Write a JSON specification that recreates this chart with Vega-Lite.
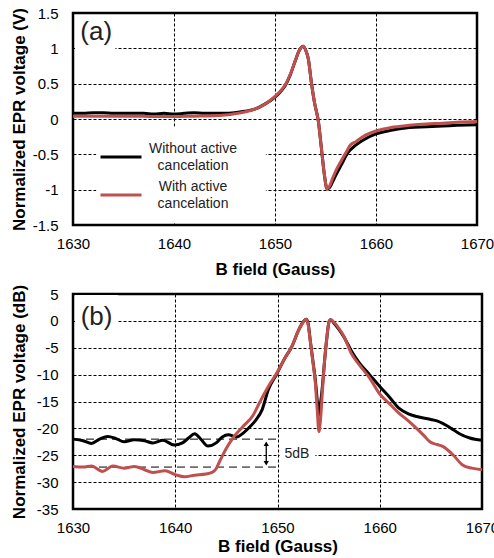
{
  "$schema": "https://vega.github.io/schema/vega-lite/v6.json",
  "padding": {"left": 8, "top": 4, "right": 5, "bottom": 2},
  "spacing": 4,
  "config": {
    "font": "Liberation Sans",
    "view": {"stroke": "black", "strokeWidth": 2.5},
    "axis": {
      "grid": true, "gridColor": "black", "gridDash": [3, 2], "gridWidth": 1, "gridOpacity": 1,
      "domain": false, "ticks": false, "tickCount": 20,
      "labelFont": "Liberation Sans", "labelFontSize": 15, "labelColor": "black",
      "titleFont": "Liberation Sans", "titleFontSize": 17, "titleFontWeight": "bold", "titleColor": "black",
      "labelFlush": false, "labelOverlap": false
    }
  },
  "datasets": {
    "a": [
      {"B": 1630, "v": 0.08, "s": "Without active cancelation"},
      {"B": 1631, "v": 0.08, "s": "Without active cancelation"},
      {"B": 1632, "v": 0.09, "s": "Without active cancelation"},
      {"B": 1633, "v": 0.09, "s": "Without active cancelation"},
      {"B": 1634, "v": 0.08, "s": "Without active cancelation"},
      {"B": 1635, "v": 0.08, "s": "Without active cancelation"},
      {"B": 1636, "v": 0.08, "s": "Without active cancelation"},
      {"B": 1637, "v": 0.08, "s": "Without active cancelation"},
      {"B": 1638, "v": 0.07, "s": "Without active cancelation"},
      {"B": 1639, "v": 0.08, "s": "Without active cancelation"},
      {"B": 1640, "v": 0.07, "s": "Without active cancelation"},
      {"B": 1641, "v": 0.08, "s": "Without active cancelation"},
      {"B": 1642, "v": 0.09, "s": "Without active cancelation"},
      {"B": 1643, "v": 0.08, "s": "Without active cancelation"},
      {"B": 1644, "v": 0.08, "s": "Without active cancelation"},
      {"B": 1645, "v": 0.08, "s": "Without active cancelation"},
      {"B": 1646, "v": 0.09, "s": "Without active cancelation"},
      {"B": 1647, "v": 0.11, "s": "Without active cancelation"},
      {"B": 1648, "v": 0.14, "s": "Without active cancelation"},
      {"B": 1649, "v": 0.21, "s": "Without active cancelation"},
      {"B": 1650, "v": 0.31, "s": "Without active cancelation"},
      {"B": 1650.5, "v": 0.38, "s": "Without active cancelation"},
      {"B": 1651, "v": 0.47, "s": "Without active cancelation"},
      {"B": 1651.5, "v": 0.62, "s": "Without active cancelation"},
      {"B": 1652, "v": 0.82, "s": "Without active cancelation"},
      {"B": 1652.4, "v": 0.97, "s": "Without active cancelation"},
      {"B": 1652.8, "v": 1.03, "s": "Without active cancelation"},
      {"B": 1653.1, "v": 0.95, "s": "Without active cancelation"},
      {"B": 1653.3, "v": 0.85, "s": "Without active cancelation"},
      {"B": 1653.6, "v": 0.52, "s": "Without active cancelation"},
      {"B": 1653.9, "v": 0.24, "s": "Without active cancelation"},
      {"B": 1654.3, "v": -0.04, "s": "Without active cancelation"},
      {"B": 1654.6, "v": -0.42, "s": "Without active cancelation"},
      {"B": 1654.9, "v": -0.8, "s": "Without active cancelation"},
      {"B": 1655.15, "v": -0.99, "s": "Without active cancelation"},
      {"B": 1655.4, "v": -0.97, "s": "Without active cancelation"},
      {"B": 1655.7, "v": -0.89, "s": "Without active cancelation"},
      {"B": 1656, "v": -0.8, "s": "Without active cancelation"},
      {"B": 1656.6, "v": -0.64, "s": "Without active cancelation"},
      {"B": 1657.2, "v": -0.48, "s": "Without active cancelation"},
      {"B": 1658, "v": -0.37, "s": "Without active cancelation"},
      {"B": 1658.7, "v": -0.3, "s": "Without active cancelation"},
      {"B": 1660, "v": -0.21, "s": "Without active cancelation"},
      {"B": 1661.5, "v": -0.16, "s": "Without active cancelation"},
      {"B": 1663.3, "v": -0.12, "s": "Without active cancelation"},
      {"B": 1665, "v": -0.11, "s": "Without active cancelation"},
      {"B": 1666.6, "v": -0.1, "s": "Without active cancelation"},
      {"B": 1668, "v": -0.09, "s": "Without active cancelation"},
      {"B": 1670, "v": -0.08, "s": "Without active cancelation"},
      {"B": 1630, "v": 0.04, "s": "With active cancelation"},
      {"B": 1632, "v": 0.04, "s": "With active cancelation"},
      {"B": 1634, "v": 0.04, "s": "With active cancelation"},
      {"B": 1636, "v": 0.04, "s": "With active cancelation"},
      {"B": 1638, "v": 0.035, "s": "With active cancelation"},
      {"B": 1640, "v": 0.035, "s": "With active cancelation"},
      {"B": 1642, "v": 0.04, "s": "With active cancelation"},
      {"B": 1644, "v": 0.045, "s": "With active cancelation"},
      {"B": 1645, "v": 0.055, "s": "With active cancelation"},
      {"B": 1646, "v": 0.075, "s": "With active cancelation"},
      {"B": 1647, "v": 0.1, "s": "With active cancelation"},
      {"B": 1648, "v": 0.14, "s": "With active cancelation"},
      {"B": 1649, "v": 0.21, "s": "With active cancelation"},
      {"B": 1650, "v": 0.32, "s": "With active cancelation"},
      {"B": 1650.5, "v": 0.39, "s": "With active cancelation"},
      {"B": 1651, "v": 0.48, "s": "With active cancelation"},
      {"B": 1651.5, "v": 0.63, "s": "With active cancelation"},
      {"B": 1652, "v": 0.82, "s": "With active cancelation"},
      {"B": 1652.4, "v": 0.97, "s": "With active cancelation"},
      {"B": 1652.8, "v": 1.03, "s": "With active cancelation"},
      {"B": 1653.1, "v": 0.95, "s": "With active cancelation"},
      {"B": 1653.3, "v": 0.85, "s": "With active cancelation"},
      {"B": 1653.6, "v": 0.52, "s": "With active cancelation"},
      {"B": 1653.9, "v": 0.24, "s": "With active cancelation"},
      {"B": 1654.3, "v": -0.04, "s": "With active cancelation"},
      {"B": 1654.6, "v": -0.42, "s": "With active cancelation"},
      {"B": 1654.9, "v": -0.8, "s": "With active cancelation"},
      {"B": 1655.15, "v": -0.99, "s": "With active cancelation"},
      {"B": 1655.4, "v": -0.95, "s": "With active cancelation"},
      {"B": 1655.7, "v": -0.84, "s": "With active cancelation"},
      {"B": 1656, "v": -0.74, "s": "With active cancelation"},
      {"B": 1656.6, "v": -0.58, "s": "With active cancelation"},
      {"B": 1657.2, "v": -0.43, "s": "With active cancelation"},
      {"B": 1657.4, "v": -0.38, "s": "With active cancelation"},
      {"B": 1658, "v": -0.32, "s": "With active cancelation"},
      {"B": 1658.7, "v": -0.25, "s": "With active cancelation"},
      {"B": 1660, "v": -0.17, "s": "With active cancelation"},
      {"B": 1661.5, "v": -0.12, "s": "With active cancelation"},
      {"B": 1663.3, "v": -0.09, "s": "With active cancelation"},
      {"B": 1665, "v": -0.07, "s": "With active cancelation"},
      {"B": 1666.6, "v": -0.06, "s": "With active cancelation"},
      {"B": 1668, "v": -0.045, "s": "With active cancelation"},
      {"B": 1670, "v": -0.035, "s": "With active cancelation"}
    ],
    "b": [
      {"B": 1630, "v": -22.0, "s": "Without"},
      {"B": 1631, "v": -22.3, "s": "Without"},
      {"B": 1631.8, "v": -22.8, "s": "Without"},
      {"B": 1632.6, "v": -22.0, "s": "Without"},
      {"B": 1633.4, "v": -21.5, "s": "Without"},
      {"B": 1634.2, "v": -21.9, "s": "Without"},
      {"B": 1635, "v": -22.5, "s": "Without"},
      {"B": 1636, "v": -22.1, "s": "Without"},
      {"B": 1637, "v": -22.3, "s": "Without"},
      {"B": 1637.8, "v": -22.7, "s": "Without"},
      {"B": 1638.8, "v": -22.2, "s": "Without"},
      {"B": 1639.9, "v": -23.1, "s": "Without"},
      {"B": 1640.7, "v": -22.7, "s": "Without"},
      {"B": 1641.3, "v": -21.8, "s": "Without"},
      {"B": 1641.9, "v": -21.0, "s": "Without"},
      {"B": 1642.5, "v": -22.0, "s": "Without"},
      {"B": 1643.2, "v": -23.3, "s": "Without"},
      {"B": 1644, "v": -22.7, "s": "Without"},
      {"B": 1644.6, "v": -21.6, "s": "Without"},
      {"B": 1645.2, "v": -21.2, "s": "Without"},
      {"B": 1646, "v": -21.6, "s": "Without"},
      {"B": 1646.7, "v": -20.8, "s": "Without"},
      {"B": 1647.3, "v": -19.7, "s": "Without"},
      {"B": 1647.9, "v": -18.4, "s": "Without"},
      {"B": 1648.5, "v": -16.5, "s": "Without"},
      {"B": 1649.1, "v": -12.8, "s": "Without"},
      {"B": 1649.9, "v": -10.0, "s": "Without"},
      {"B": 1650.7, "v": -7.0, "s": "Without"},
      {"B": 1651.4, "v": -4.8, "s": "Without"},
      {"B": 1652, "v": -2.0, "s": "Without"},
      {"B": 1652.5, "v": -0.2, "s": "Without"},
      {"B": 1652.8, "v": 0.3, "s": "Without"},
      {"B": 1653, "v": -0.5, "s": "Without"},
      {"B": 1653.2, "v": -3.6, "s": "Without"},
      {"B": 1653.5, "v": -8.0, "s": "Without"},
      {"B": 1653.7, "v": -11.0, "s": "Without"},
      {"B": 1653.9, "v": -15.0, "s": "Without"},
      {"B": 1654.05, "v": -17.5, "s": "Without"},
      {"B": 1654.2, "v": -15.5, "s": "Without"},
      {"B": 1654.4, "v": -12.0, "s": "Without"},
      {"B": 1654.6, "v": -7.5, "s": "Without"},
      {"B": 1654.8, "v": -3.6, "s": "Without"},
      {"B": 1655.05, "v": -0.1, "s": "Without"},
      {"B": 1655.2, "v": 0.2, "s": "Without"},
      {"B": 1655.6, "v": -0.6, "s": "Without"},
      {"B": 1656, "v": -1.6, "s": "Without"},
      {"B": 1656.5, "v": -3.0, "s": "Without"},
      {"B": 1657.2, "v": -5.5, "s": "Without"},
      {"B": 1658, "v": -7.8, "s": "Without"},
      {"B": 1659, "v": -10.0, "s": "Without"},
      {"B": 1660, "v": -12.2, "s": "Without"},
      {"B": 1661, "v": -14.3, "s": "Without"},
      {"B": 1661.9, "v": -16.3, "s": "Without"},
      {"B": 1662.8, "v": -17.3, "s": "Without"},
      {"B": 1663.6, "v": -17.8, "s": "Without"},
      {"B": 1664.9, "v": -18.3, "s": "Without"},
      {"B": 1665.6, "v": -18.6, "s": "Without"},
      {"B": 1666.2, "v": -19.1, "s": "Without"},
      {"B": 1667, "v": -20.0, "s": "Without"},
      {"B": 1667.8, "v": -21.0, "s": "Without"},
      {"B": 1668.8, "v": -21.8, "s": "Without"},
      {"B": 1670, "v": -22.2, "s": "Without"},
      {"B": 1630, "v": -27.1, "s": "With"},
      {"B": 1631, "v": -27.2, "s": "With"},
      {"B": 1631.8, "v": -27.0, "s": "With"},
      {"B": 1632.9, "v": -28.0, "s": "With"},
      {"B": 1633.9, "v": -27.0, "s": "With"},
      {"B": 1635, "v": -27.4, "s": "With"},
      {"B": 1636, "v": -27.1, "s": "With"},
      {"B": 1637, "v": -27.7, "s": "With"},
      {"B": 1637.8, "v": -28.2, "s": "With"},
      {"B": 1639, "v": -27.9, "s": "With"},
      {"B": 1640, "v": -28.6, "s": "With"},
      {"B": 1640.9, "v": -29.0, "s": "With"},
      {"B": 1641.9, "v": -28.7, "s": "With"},
      {"B": 1643, "v": -28.5, "s": "With"},
      {"B": 1643.6, "v": -28.2, "s": "With"},
      {"B": 1644, "v": -27.5, "s": "With"},
      {"B": 1644.3, "v": -26.3, "s": "With"},
      {"B": 1645, "v": -23.7, "s": "With"},
      {"B": 1645.6, "v": -21.9, "s": "With"},
      {"B": 1646.6, "v": -19.7, "s": "With"},
      {"B": 1647.6, "v": -17.6, "s": "With"},
      {"B": 1648.3, "v": -15.0, "s": "With"},
      {"B": 1649.1, "v": -12.2, "s": "With"},
      {"B": 1649.9, "v": -9.8, "s": "With"},
      {"B": 1650.7, "v": -7.0, "s": "With"},
      {"B": 1651.4, "v": -4.8, "s": "With"},
      {"B": 1652, "v": -2.0, "s": "With"},
      {"B": 1652.5, "v": -0.3, "s": "With"},
      {"B": 1652.8, "v": 0.3, "s": "With"},
      {"B": 1653, "v": -0.8, "s": "With"},
      {"B": 1653.2, "v": -3.6, "s": "With"},
      {"B": 1653.45, "v": -7.5, "s": "With"},
      {"B": 1653.7, "v": -11.6, "s": "With"},
      {"B": 1653.9, "v": -17.0, "s": "With"},
      {"B": 1654.05, "v": -20.6, "s": "With"},
      {"B": 1654.2, "v": -18.5, "s": "With"},
      {"B": 1654.4, "v": -12.9, "s": "With"},
      {"B": 1654.6, "v": -7.5, "s": "With"},
      {"B": 1654.8, "v": -3.6, "s": "With"},
      {"B": 1655.05, "v": -0.1, "s": "With"},
      {"B": 1655.2, "v": 0.2, "s": "With"},
      {"B": 1655.6, "v": -0.4, "s": "With"},
      {"B": 1655.9, "v": -1.1, "s": "With"},
      {"B": 1656.5, "v": -2.9, "s": "With"},
      {"B": 1657.2, "v": -6.0, "s": "With"},
      {"B": 1658, "v": -8.2, "s": "With"},
      {"B": 1659, "v": -10.6, "s": "With"},
      {"B": 1660, "v": -13.6, "s": "With"},
      {"B": 1661, "v": -15.5, "s": "With"},
      {"B": 1661.9, "v": -17.2, "s": "With"},
      {"B": 1662.8, "v": -18.6, "s": "With"},
      {"B": 1663.6, "v": -20.0, "s": "With"},
      {"B": 1664.3, "v": -21.3, "s": "With"},
      {"B": 1664.9, "v": -22.5, "s": "With"},
      {"B": 1665.6, "v": -23.0, "s": "With"},
      {"B": 1666.2, "v": -23.4, "s": "With"},
      {"B": 1667.2, "v": -25.0, "s": "With"},
      {"B": 1668.1, "v": -26.8, "s": "With"},
      {"B": 1669, "v": -27.4, "s": "With"},
      {"B": 1670, "v": -27.7, "s": "With"}
    ]
  },
  "vconcat": [
    {
      "width": 404,
      "height": 212,
      "layer": [
        {
          "data": {"values": [
            {"x": 1630.2, "x2": 1634.2, "y": 1.47, "y2": 0.88},
            {"x": 1632.3, "x2": 1649.1, "y": -0.11, "y2": -1.47}
          ]},
          "mark": {"type": "rect", "fill": "white"},
          "encoding": {
            "x": {"field": "x", "type": "quantitative", "scale": {"domain": [1630, 1670], "nice": false},
                  "axis": {"title": "B field (Gauss)", "values": [1630, 1640, 1650, 1660, 1670], "tickCount": 20, "labelExpr": "'' + datum.value", "labelPadding": 11, "titlePadding": 10, "labelOverlap": false}},
            "x2": {"field": "x2"},
            "y": {"field": "y", "type": "quantitative", "scale": {"domain": [-1.5, 1.5], "nice": false},
                  "axis": {"title": "Normalized EPR voltage (V)", "values": [-1.5, -1, -0.5, 0, 0.5, 1, 1.5], "tickCount": 20, "labelExpr": "'' + datum.value", "labelPadding": 15, "minExtent": 40, "maxExtent": 40, "titlePadding": 5, "labelOverlap": false}},
            "y2": {"field": "y2"}
          }
        },
        {
          "data": {"values": [{"label": "(a)", "x": 1632.3, "y": 1.23}]},
          "mark": {"type": "text", "fontSize": 26, "color": "#222"},
          "encoding": {
            "x": {"field": "x", "type": "quantitative"},
            "y": {"field": "y", "type": "quantitative"},
            "text": {"field": "label"}
          }
        },
        {
          "data": {"name": "a"},
          "transform": [{"filter": "datum.s == 'Without active cancelation'"}],
          "mark": {"type": "line", "strokeWidth": 3, "interpolate": "monotone"},
          "encoding": {
            "x": {"field": "B", "type": "quantitative"},
            "y": {"field": "v", "type": "quantitative"},
            "color": {"field": "s", "type": "nominal",
              "scale": {"domain": ["Without active cancelation", "With active cancelation"], "range": ["black", "#c0504d"]},
              "legend": {"title": null, "orient": "none", "legendX": 26, "legendY": 122, "padding": 0,
                "symbolType": "stroke", "symbolSize": 1681, "symbolStrokeWidth": 3,
                "labelFont": "Liberation Sans", "labelFontSize": 14, "labelColor": "#222",
                "labelAlign": "center", "labelOffset": 50, "rowPadding": -5, "labelLimit": 300,
                "labelExpr": "datum.label == 'With active cancelation' ? ['With active', 'cancelation'] : ['Without active', 'cancelation']",
                "encode": {"labels": {"update": {"lineHeight": {"value": 17}, "dy": {"value": -8.5}}}}}
            }
          }
        },
        {
          "data": {"name": "a"},
          "transform": [{"filter": "datum.s == 'With active cancelation'"}],
          "mark": {"type": "line", "strokeWidth": 3, "interpolate": "monotone"},
          "encoding": {
            "x": {"field": "B", "type": "quantitative"},
            "y": {"field": "v", "type": "quantitative"},
            "color": {"field": "s", "type": "nominal"}
          }
        }
      ]
    },
    {
      "width": 409,
      "height": 215,
      "layer": [
        {
          "data": {"values": [
            {"x": 1630.2, "x2": 1634.4, "y": 4.8, "y2": -3},
            {"x": 1650.2, "x2": 1653.7, "y": -23.2, "y2": -26.2}
          ]},
          "mark": {"type": "rect", "fill": "white"},
          "encoding": {
            "x": {"field": "x", "type": "quantitative", "scale": {"domain": [1630, 1670], "nice": false},
                  "axis": {"title": "B field (Gauss)", "values": [1630, 1640, 1650, 1660, 1670], "tickCount": 20, "labelExpr": "'' + datum.value", "labelPadding": 11, "titlePadding": 3, "labelOverlap": false}},
            "x2": {"field": "x2"},
            "y": {"field": "y", "type": "quantitative", "scale": {"domain": [-35, 5], "nice": false},
                  "axis": {"title": "Normalized EPR voltage (dB)", "values": [-35, -30, -25, -20, -15, -10, -5, 0, 5], "tickCount": 20, "labelExpr": "'' + datum.value", "labelPadding": 15, "minExtent": 40, "maxExtent": 40, "titlePadding": 5, "labelOverlap": false}},
            "y2": {"field": "y2"}
          }
        },
        {
          "data": {"values": [{"x": 1630, "x2": 1650, "y": -22.0}, {"x": 1630, "x2": 1650, "y": -27.2}]},
          "mark": {"type": "rule", "color": "black", "strokeWidth": 1, "strokeDash": [8, 5]},
          "encoding": {
            "x": {"field": "x", "type": "quantitative"},
            "x2": {"field": "x2"},
            "y": {"field": "y", "type": "quantitative"}
          }
        },
        {
          "data": {"values": [{"x": 1648.9, "y": -22.7, "y2": -26.6}]},
          "mark": {"type": "rule", "color": "black", "strokeWidth": 1.3},
          "encoding": {
            "x": {"field": "x", "type": "quantitative"},
            "y": {"field": "y", "type": "quantitative"},
            "y2": {"field": "y2"}
          }
        },
        {
          "data": {"values": [{"x": 1648.9, "y": -22.85}]},
          "mark": {"type": "point", "shape": "triangle-up", "filled": true, "color": "black", "size": 28, "opacity": 1},
          "encoding": {
            "x": {"field": "x", "type": "quantitative"},
            "y": {"field": "y", "type": "quantitative"}
          }
        },
        {
          "data": {"values": [{"x": 1648.9, "y": -26.5}]},
          "mark": {"type": "point", "shape": "triangle-down", "filled": true, "color": "black", "size": 28, "opacity": 1},
          "encoding": {
            "x": {"field": "x", "type": "quantitative"},
            "y": {"field": "y", "type": "quantitative"}
          }
        },
        {
          "data": {"values": [{"label": "(b)", "x": 1632.3, "y": 0.8}, {"label": "5dB", "x": 1651.9, "y": -24.7}]},
          "mark": {"type": "text", "color": "#222"},
          "encoding": {
            "x": {"field": "x", "type": "quantitative"},
            "y": {"field": "y", "type": "quantitative"},
            "text": {"field": "label"},
            "size": {"condition": {"test": "datum.label == '(b)'", "value": 26}, "value": 14}
          }
        },
        {
          "data": {"name": "b"},
          "transform": [{"filter": "datum.s == 'Without'"}],
          "mark": {"type": "line", "strokeWidth": 3, "interpolate": "monotone", "color": "black"},
          "encoding": {
            "x": {"field": "B", "type": "quantitative"},
            "y": {"field": "v", "type": "quantitative"}
          }
        },
        {
          "data": {"name": "b"},
          "transform": [{"filter": "datum.s == 'With'"}],
          "mark": {"type": "line", "strokeWidth": 3, "interpolate": "monotone", "color": "#c0504d"},
          "encoding": {
            "x": {"field": "B", "type": "quantitative"},
            "y": {"field": "v", "type": "quantitative"}
          }
        }
      ]
    }
  ]
}
